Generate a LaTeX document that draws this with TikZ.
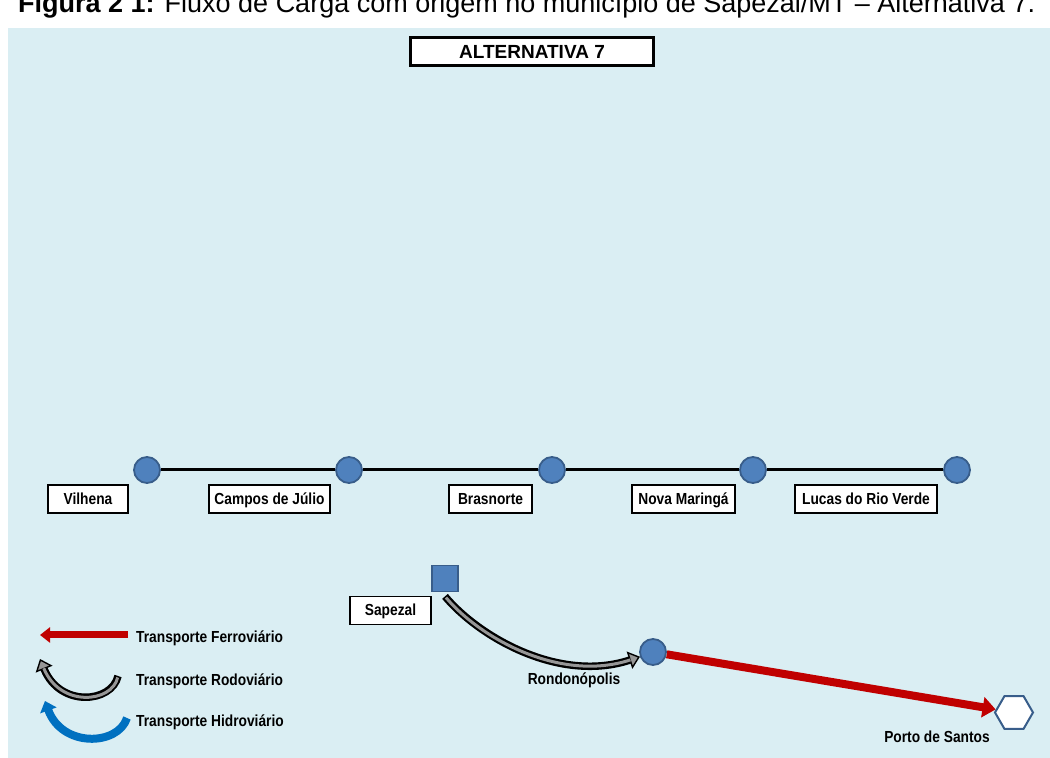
\documentclass[tikz,border=0pt]{standalone}
\usepackage{fontspec}
\newfontfamily\fonterotulo{Liberation Sans}[FakeStretch=0.86]
\newfontfamily\fontelegenda{Liberation Sans}
\usetikzlibrary{arrows.meta,shapes.geometric}
\definecolor{fundo}{RGB}{218,238,243}
\definecolor{azulno}{RGB}{79,129,189}
\definecolor{azulborda}{RGB}{56,93,138}
\definecolor{vermelho}{RGB}{192,0,0}
\definecolor{azulhidro}{RGB}{0,112,192}
\definecolor{cinza}{RGB}{150,150,150}

\begin{document}
\begin{tikzpicture}[x=1pt, y=1pt,
    cidade/.style={circle, minimum size=26pt, inner sep=0pt, fill=azulno, draw=azulborda, line width=1.8pt},
    rotulo/.style={draw, fill=white, line width=1.2pt, minimum height=28pt, inner sep=0pt,
        text height=13pt, text depth=2pt, font=\fonterotulo\bfseries\fontsize{16}{19}\selectfont},
    texto/.style={inner sep=0pt, font=\fonterotulo\bfseries\fontsize{16}{19}\selectfont},
    ferro/.style={draw=vermelho, line width=8pt, -{Triangle[length=13pt, width=20pt]}},
    rodo/.style={draw=black, line width=7.5pt,
        -{Triangle[length=11pt, width=18pt, fill=cinza, line width=1.4pt]},
        postaction={draw=cinza, line width=3pt, -, shorten <=1.5pt, shorten >=10pt}},
    hidro/.style={draw=azulhidro, line width=8pt, -{Triangle[length=10pt, width=17pt]}}]
    \useasboundingbox (0,0) rectangle (1050,758);
    \fill[fundo] (8,0) rectangle (1050,730);
    \node[anchor=base west, inner sep=0pt, font=\fontelegenda\fontsize{27}{32}\selectfont] (legenda) at (18,745)
        {\textbf{Figura 2 1:} Fluxo de Carga com origem no município de Sapezal/MT – Alternativa 7.};
    \node[draw, fill=white, line width=2.5pt, minimum width=243pt, minimum height=28pt,
        font=\fontelegenda\bfseries\fontsize{19}{22}\selectfont] (titulo) at (532,706.5) {ALTERNATIVA 7};

    \node[cidade] (vilhena) at (147,288) {};
    \node[cidade] (campos) at (349,288) {};
    \node[cidade] (brasnorte) at (552,288) {};
    \node[cidade] (maringa) at (753,288) {};
    \node[cidade] (lucas) at (957,288) {};
    \draw[line width=3pt] (vilhena) -- (campos) -- (brasnorte) -- (maringa) -- (lucas);

    \node[rotulo, minimum width=80pt] (lvilhena) at (88,259) {Vilhena};
    \node[rotulo, minimum width=121pt] (lcampos) at (269.5,259) {Campos de Júlio};
    \node[rotulo, minimum width=83pt] (lbrasnorte) at (490.5,259) {Brasnorte};
    \node[rotulo, minimum width=103pt] (lmaringa) at (683.5,259) {Nova Maringá};
    \node[rotulo, minimum width=142pt] (llucas) at (866,259) {Lucas do Rio Verde};

    \node[rectangle, minimum size=26pt, inner sep=0pt, fill=azulno, draw=azulborda, line width=1.8pt] (sapezal) at (445,179.5) {};
    \node[rotulo, minimum width=81pt] (lsapezal) at (390.5,147.5) {Sapezal};
    \node[cidade] (rondonopolis) at (653,106) {};
    \node[texto] (lrondonopolis) at (574,78) {Rondonópolis};
    \node[regular polygon, regular polygon sides=6, minimum size=38pt, inner sep=0pt,
        fill=white, draw=azulborda, line width=2pt] (santos) at (1014,45.5) {};
    \node[texto] (lsantos) at (937,21) {Porto de Santos};

    \draw[rodo] ([yshift=-4pt]sapezal.south) .. controls (480,120) and (560,75) .. (rondonopolis.200);
    \draw[ferro] (rondonopolis) -- (santos);

    \node[texto, anchor=west] (lferro) at (136,120) {Transporte Ferroviário};
    \node[texto, anchor=west] (lrodo) at (136,77) {Transporte Rodoviário};
    \node[texto, anchor=west] (lhidro) at (136,36) {Transporte Hidroviário};
    \coordinate (ferroA) at (128,123);
    \coordinate (ferroB) at (40,123);
    \coordinate (rodoA) at (118,82);
    \coordinate (rodoB) at (40,99);
    \coordinate (hidroA) at (127,40);
    \coordinate (hidroB) at (45,57);
    \draw[ferro, line width=7pt, -{Triangle[length=10pt, width=15pt]}] (ferroA) -- (ferroB);
    \draw[rodo] (rodoA) .. controls (112,55) and (60,50) .. (rodoB);
    \draw[hidro] (hidroA) .. controls (118,12) and (62,10) .. (hidroB);
\end{tikzpicture}
\end{document}
